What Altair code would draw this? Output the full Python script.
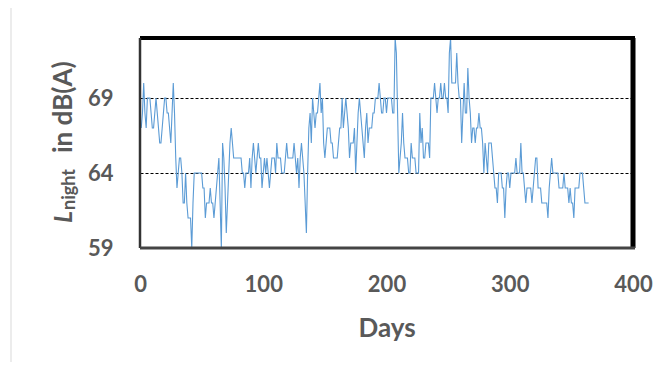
import altair as alt
import pandas as pd

# Daily L_night values (dB(A)), days 1..364
seg1 = [67, 68, 70, 68, 67, 69, 69, 69, 68, 67,
        67, 68, 69, 68, 67, 66, 66, 67, 68, 69,
        69, 68, 68, 67, 66, 68, 70, 68, 65, 63,
        64, 65, 65, 64, 62, 62, 64, 62, 61, 61,
        61, 59, 62, 64, 64, 64, 64, 64, 64, 64,
        63, 63, 61, 62, 62, 62, 63, 62, 62, 61,
        62, 63, 64, 65, 62, 59, 66, 65, 63, 60,
        62, 64]
seg2 = [66, 67, 66, 65, 65, 65, 65, 65, 65, 65,
        64, 64, 63, 64, 64, 64, 65, 63, 65, 66,
        65, 64, 65, 66, 65, 65, 63, 64, 65, 64,
        65, 64, 63, 64, 65, 65, 65, 64, 66, 65,
        65, 65, 64, 64, 64, 65, 66, 65, 65, 65,
        65, 65, 66, 65, 64, 65, 63, 65, 66, 65,
        64, 62, 60, 64, 67, 68, 66, 69, 68, 67,
        68, 68, 69, 70]
seg3 = [68, 69, 66, 65, 66, 67, 67, 67, 66, 66,
        65, 65, 65, 65, 66, 67, 67, 69, 67, 68,
        69, 68, 67, 65, 66, 66, 66, 67, 64, 66,
        68, 69, 68, 67, 66, 65, 67, 68, 66, 67,
        67, 67, 68, 68, 69, 69, 69, 70, 69, 68,
        68, 69, 69, 68, 69, 69, 69, 69, 68, 68,
        73, 72, 68, 64, 65, 66, 68, 66, 65, 65,
        65, 64]
seg4 = [64, 66, 65, 65, 65, 64, 64, 64, 68, 66,
        67, 65, 65, 66, 66, 66, 65, 69, 69, 69,
        70, 69, 68, 69, 69, 70, 69, 69, 70, 69,
        69, 68, 72, 73, 70, 70, 70, 70, 72, 70,
        69, 69, 66, 68, 70, 68, 68, 71, 69, 68,
        66, 67, 67, 66, 67, 67, 68, 67, 67, 66,
        64, 66, 65, 64, 66, 66, 66, 65, 64, 63,
        63, 62]
seg5 = [64, 64, 64, 63, 63, 61, 63, 64, 64, 63,
        64, 64, 64, 64, 65, 64, 64, 64, 66, 64,
        64, 63, 62, 63, 63, 63, 63, 62, 63, 64,
        65, 65, 63, 63, 63, 62, 62, 62, 62, 62,
        61, 63, 64, 65, 64, 64, 64, 64, 64, 63,
        63, 63, 63, 64, 63, 63, 63, 62, 63, 62,
        62, 61, 63, 63, 63, 63, 64, 64, 64, 63,
        62, 62, 62, 62]

values = seg1 + seg2 + seg3 + seg4 + seg5
days = list(range(1, len(values) + 1))

x_ticks = [0, 100, 200, 300, 400]
y_ticks = [59, 64, 69]
x_domain = [0, 400]
y_domain = [59, 73]

title_L = ["L"]
title_sub = ["night"]
title_rest = ["in dB(A)"]

df = pd.DataFrame({"day": days, "lnight": values})

W, H = 493, 210
FONT = "Lato"
GRAY = "#595959"

line = alt.Chart(df).mark_line(color="#5B9BD5", strokeWidth=1.1).encode(
    x=alt.X("day:Q",
            scale=alt.Scale(domain=x_domain, nice=False, zero=False),
            axis=alt.Axis(values=x_ticks, title="Days", grid=False, domain=False,
                          ticks=False, labelPadding=26, labelFontSize=22,
                          labelFlush=False,
                          labelFont=FONT, labelFontWeight="bold", labelColor=GRAY,
                          titleFontSize=26, titleFont=FONT, titleFontWeight="bold",
                          titleColor=GRAY, titlePadding=20)),
    y=alt.Y("lnight:Q",
            scale=alt.Scale(domain=y_domain, nice=False, zero=False),
            axis=alt.Axis(values=y_ticks, title=None, grid=True, gridDash=[3, 2],
                          gridColor="black", gridWidth=1, domain=False, ticks=False,
                          labelPadding=27, labelFontSize=22, labelFont=FONT,
                          labelFontWeight="bold", labelColor=GRAY)),
)

top = alt.Chart().mark_rule(color="black", strokeWidth=4).encode(
    x=alt.value(0), x2=alt.value(W + 2), y=alt.value(0))
right = alt.Chart().mark_rule(color="black", strokeWidth=5).encode(
    x=alt.value(W), y=alt.value(0), y2=alt.value(H))
left = alt.Chart().mark_rule(color="#333333", strokeWidth=2.5).encode(
    x=alt.value(0), y=alt.value(0), y2=alt.value(H))
bottom = alt.Chart().mark_rule(color="#444444", strokeWidth=3).encode(
    x=alt.value(0), x2=alt.value(W + 2), y=alt.value(H))
outer = alt.Chart().mark_rule(color="#d9d9d9", strokeWidth=1).encode(
    x=alt.value(-129), y=alt.value(-38), y2=alt.value(332))

tL = alt.Chart(pd.DataFrame({"t": title_L})).mark_text(
    angle=270, align="left", baseline="alphabetic", font=FONT, fontSize=25,
    fontWeight="bold", fontStyle="italic", color=GRAY).encode(
    text="t:N", x=alt.value(-68), y=alt.value(185))
tS = alt.Chart(pd.DataFrame({"t": title_sub})).mark_text(
    angle=270, align="left", baseline="alphabetic", font=FONT, fontSize=18,
    fontWeight="bold", color=GRAY).encode(
    text="t:N", x=alt.value(-65), y=alt.value(172))
tR = alt.Chart(pd.DataFrame({"t": title_rest})).mark_text(
    angle=270, align="left", baseline="alphabetic", font=FONT, fontSize=26,
    fontWeight="bold", color=GRAY).encode(
    text="t:N", x=alt.value(-68), y=alt.value(115))

chart = alt.layer(line, top, right, left, bottom, outer, tL, tS, tR).properties(
    width=W, height=H,
    autosize=alt.AutoSizeParams(type="none"),
    padding={"left": 132, "top": 30, "right": 27, "bottom": 114},
).configure_view(stroke=None).configure(background="white")

chart.save("out.html", embed_options={"renderer": "svg", "actions": False})
